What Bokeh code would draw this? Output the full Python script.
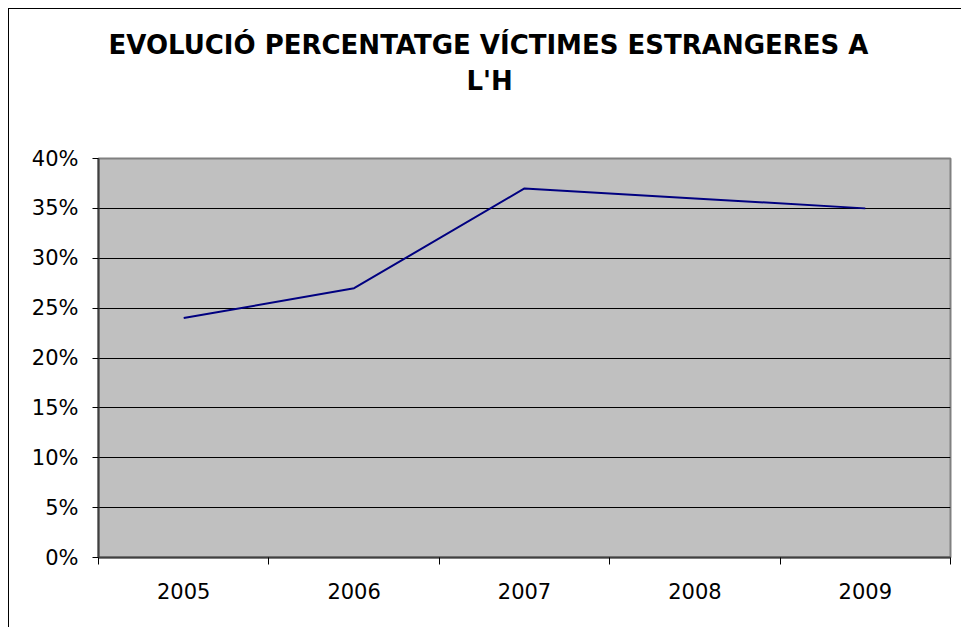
from bokeh.plotting import figure
from bokeh.models import Range1d, FixedTicker, NumeralTickFormatter, Title
from bokeh.embed import file_html
from bokeh.resources import INLINE

years = ["2005", "2006", "2007", "2008", "2009"]
percent_victims = [0.24, 0.27, 0.37, 0.36, 0.35]
y_ticks = [0.0, 0.05, 0.10, 0.15, 0.20, 0.25, 0.30, 0.35, 0.40]
title_line1 = "EVOLUCIÓ PERCENTATGE VÍCTIMES ESTRANGERES A"
title_line2 = "L'H"

xpos = list(range(1, len(years) + 1))

p = figure(width=953, height=619, output_backend="svg", toolbar_location=None,
           x_range=Range1d(0.5, len(years) + 0.5), y_range=Range1d(0, 0.4),
           min_border_left=89, min_border_right=12, min_border_bottom=71, min_border_top=0)
p.title.visible = False

FONT = "DejaVu Sans"
spacer_bottom = Title(text=" ", text_font_size="1px", standoff=58)
t2 = Title(text=title_line2, align="left", offset=368, text_font=FONT, text_font_size="26px",
           text_font_style="bold", text_color="black", standoff=4)
t1 = Title(text=title_line1, align="left", offset=10, text_font=FONT, text_font_size="26px",
           text_font_style="bold", text_color="black", standoff=4)
spacer_top = Title(text=" ", text_font_size="1px", standoff=13)
p.add_layout(spacer_bottom, "above")
p.add_layout(t2, "above")
p.add_layout(t1, "above")
p.add_layout(spacer_top, "above")

p.background_fill_color = "#C0C0C0"
p.border_fill_color = "white"
p.outline_line_color = "#808080"
p.outline_line_width = 2

p.line(xpos, percent_victims, line_color="#000080", line_width=2)

# x axis: labels at category centers, ticks at category boundaries
p.xaxis.ticker = FixedTicker(ticks=xpos, minor_ticks=[i + 0.5 for i in range(0, len(years) + 1)])
p.xaxis.major_label_overrides = {x: y for x, y in zip(xpos, years)}
p.xaxis.major_tick_out = 0
p.xaxis.major_tick_in = 0
p.xaxis.minor_tick_out = 7
p.xaxis.minor_tick_in = 0
p.xaxis.minor_tick_line_color = "black"
p.xaxis.axis_line_color = "#404040"
p.xaxis.axis_line_width = 2
p.xaxis.major_label_text_font = FONT
p.xaxis.major_label_text_font_size = "21px"
p.xaxis.major_label_text_color = "black"
p.xaxis.major_label_standoff = 18

p.yaxis.ticker = FixedTicker(ticks=y_ticks, minor_ticks=[])
p.yaxis.formatter = NumeralTickFormatter(format="0%")
p.yaxis.major_tick_out = 6
p.yaxis.major_tick_in = 0
p.yaxis.major_tick_line_color = "black"
p.yaxis.axis_line_color = "#404040"
p.yaxis.axis_line_width = 2
p.yaxis.major_label_text_font = FONT
p.yaxis.major_label_text_font_size = "21px"
p.yaxis.major_label_text_color = "black"
p.yaxis.major_label_standoff = 14

p.xgrid.visible = False
p.ygrid.ticker = FixedTicker(ticks=y_ticks)
p.ygrid.grid_line_color = "black"
p.ygrid.grid_line_width = 1

p.styles = {"margin-left": "8px", "margin-top": "8px",
            "border-left": "1px solid black", "border-top": "1px solid black"}

open("out.html", "w").write(file_html(p, INLINE))
